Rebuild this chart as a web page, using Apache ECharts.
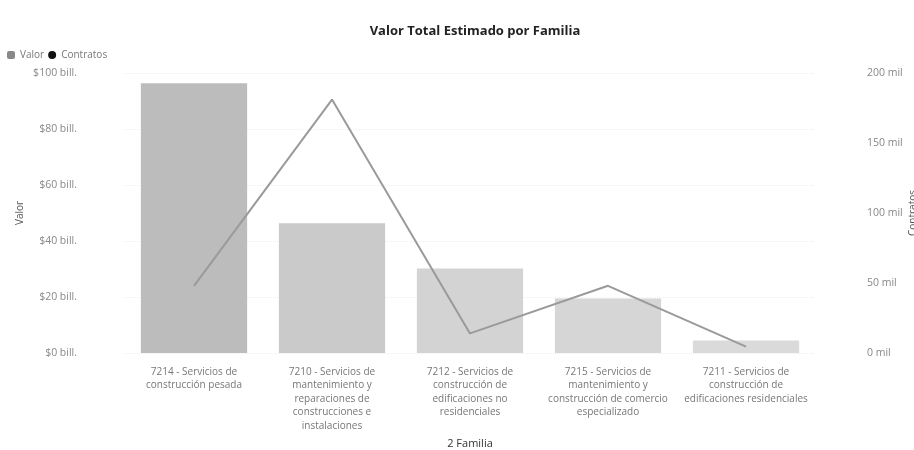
<!DOCTYPE html>
<html>
<head>
<meta charset="utf-8">
<script src="https://cdn.jsdelivr.net/npm/echarts@6/dist/echarts.min.js"></script>
<style>
  html, body { margin: 0; padding: 0; background: #fff; }
  #chart { width: 914px; height: 450px; }
</style>
</head>
<body>
<div id="chart"></div>
<script>
// categorias (Familia)
const familias = [
  '7214 - Servicios de\nconstrucción pesada',
  '7210 - Servicios de\nmantenimiento y\nreparaciones de\nconstrucciones e\ninstalaciones',
  '7212 - Servicios de\nconstrucción de\nedificaciones no\nresidenciales',
  '7215 - Servicios de\nmantenimiento y\nconstrucción de comercio\nespecializado',
  '7211 - Servicios de\nconstrucción de\nedificaciones residenciales'
];
// valor en billones
const valor = [96.3, 46.3, 30.2, 19.5, 4.5];
// contratos en miles
const contratos = [48, 181, 14, 48, 4.5];
const barColors = ['#bcbcbc', '#cacaca', '#d3d3d3', '#d6d6d6', '#dadada'];

const font = '"Open Sans", "Noto Sans", sans-serif';
const chart = echarts.init(document.getElementById('chart'));

const option = {
  backgroundColor: '#fff',
  animation: false,
  textStyle: { fontFamily: font },
  title: {
    text: 'Valor Total Estimado por Familia',
    left: 470,
    textAlign: 'center',
    top: 20,
    textStyle: { fontSize: 13, fontWeight: 'bold', color: '#222', fontFamily: font }
  },
  legend: {
    left: 2,
    top: 45,
    itemWidth: 8,
    itemHeight: 8,
    itemGap: 4,
    textStyle: { fontSize: 10, color: '#777', fontFamily: font },
    data: [
      { name: 'Valor', icon: 'roundRect', itemStyle: { color: '#888' } },
      { name: 'Contratos', icon: 'circle', itemStyle: { color: '#111' } }
    ]
  },
  grid: { left: 125, right: 99, top: 73, bottom: 97, outerBoundsMode: 'none' },
  xAxis: {
    type: 'category',
    data: familias,
    name: '2 Familia',
    nameLocation: 'middle',
    nameGap: 85,
    nameTextStyle: { fontSize: 11, color: '#333' },
    axisLine: { show: false },
    axisTick: { show: false },
    axisLabel: { interval: 0, fontSize: 10, color: '#777', lineHeight: 13.5, margin: 12 }
  },
  yAxis: [
    {
      type: 'value',
      min: 0, max: 100, interval: 20,
      name: 'Valor',
      nameLocation: 'middle',
      nameGap: 100,
      nameMoveOverlap: false,
      nameTextStyle: { fontSize: 10, color: '#555' },
      axisLabel: { fontSize: 10.5, color: '#888', margin: 48, formatter: v => '$' + v + ' bill.' },
      axisLine: { show: false },
      axisTick: { show: false },
      splitLine: { lineStyle: { color: '#efefef', type: 'dotted' } }
    },
    {
      type: 'value',
      min: 0, max: 200, interval: 50,
      name: 'Contratos',
      nameLocation: 'middle',
      nameGap: 93,
      nameMoveOverlap: false,
      nameTextStyle: { fontSize: 10, color: '#555' },
      axisLabel: { fontSize: 10.5, color: '#888', margin: 52, formatter: v => v + ' mil' },
      axisLine: { show: false },
      axisTick: { show: false },
      splitLine: { show: false }
    }
  ],
  series: [
    {
      name: 'Valor',
      type: 'bar',
      barCategoryGap: '23%',
      data: valor.map((v, i) => ({ value: v, itemStyle: { color: barColors[i] } })),
      itemStyle: { color: '#888' }
    },
    {
      name: 'Contratos',
      type: 'line',
      yAxisIndex: 1,
      data: contratos,
      showSymbol: false,
      symbol: 'circle',
      itemStyle: { color: '#111' },
      lineStyle: { color: '#9a9a9a', width: 2 },
      z: 5
    }
  ]
};

chart.setOption(option);
</script>
</body>
</html>
